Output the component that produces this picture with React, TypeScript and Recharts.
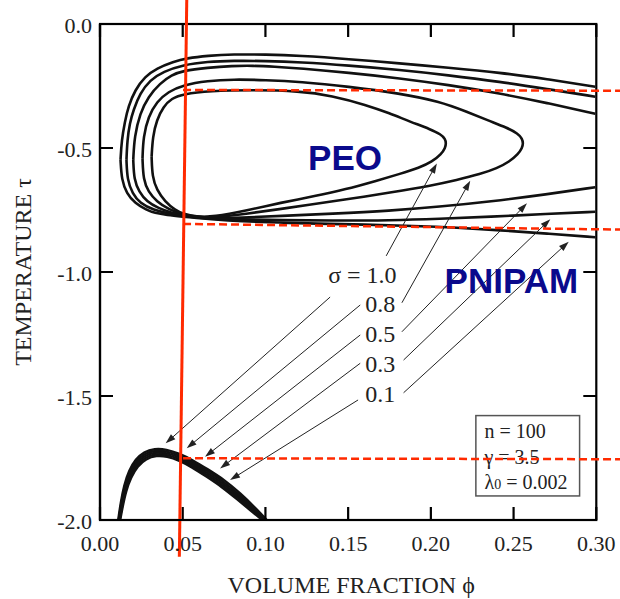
import React from 'react';
import {
  ComposedChart,
  Line,
  XAxis,
  YAxis,
  ReferenceLine,
  ReferenceDot,
  ReferenceArea,
} from 'recharts';

// ---------- axes ----------
const xTicks = [0, 0.05, 0.1, 0.15, 0.2, 0.25, 0.3];
const yTicks = [-2, -1.5, -1, -0.5, 0];

// ---------- coexistence curves (phi, tau) ----------
const loopSigma01: number[][] = [
  [0.0124, -0.548], [0.0131, -0.629], [0.0161, -0.683], [0.0212, -0.723], [0.0282, -0.75],
  [0.033, -0.762], [0.0403, -0.77], [0.0504, -0.777], [0.058, -0.782], [0.0683, -0.788],
  [0.085, -0.795], [0.1089, -0.801], [0.13, -0.805], [0.16, -0.809], [0.19, -0.814],
  [0.2157, -0.821], [0.2419, -0.832], [0.27, -0.845], [0.2994, -0.86],
];
const loopSigma01Top: number[][] = [
  [0.0124, -0.548], [0.0131, -0.468], [0.015, -0.395], [0.0171, -0.333], [0.0212, -0.266],
  [0.0272, -0.212], [0.0343, -0.179], [0.0443, -0.152], [0.0524, -0.138], [0.065, -0.128],
  [0.0804, -0.122], [0.1, -0.123], [0.121, -0.128], [0.15, -0.141], [0.1815, -0.159],
  [0.21, -0.176], [0.2419, -0.196], [0.27, -0.222], [0.2994, -0.253],
];
const loopSigma03: number[][] = [
  [0.016, -0.548], [0.0165, -0.629], [0.0196, -0.683], [0.0242, -0.723], [0.0323, -0.75],
  [0.0423, -0.766], [0.0504, -0.774], [0.058, -0.78], [0.0683, -0.785], [0.085, -0.788],
  [0.1089, -0.791], [0.14, -0.793], [0.1754, -0.792], [0.205, -0.786], [0.2359, -0.777],
  [0.27, -0.766], [0.2994, -0.757],
];
const loopSigma03Top: number[][] = [
  [0.016, -0.548], [0.0165, -0.468], [0.018, -0.4], [0.0202, -0.347], [0.0242, -0.28],
  [0.0302, -0.226], [0.0383, -0.192], [0.0502, -0.165], [0.065, -0.152], [0.0804, -0.148],
  [0.1, -0.149], [0.121, -0.154], [0.15, -0.167], [0.1815, -0.185], [0.21, -0.206],
  [0.2419, -0.233], [0.27, -0.262], [0.2994, -0.293],
];
const loopSigma05: number[][] = [
  [0.0201, -0.548], [0.0206, -0.629], [0.0236, -0.676], [0.0282, -0.716], [0.0353, -0.743],
  [0.0433, -0.761], [0.0504, -0.771], [0.058, -0.779], [0.0683, -0.784], [0.085, -0.781],
  [0.1089, -0.774], [0.14, -0.765], [0.1754, -0.753], [0.205, -0.737], [0.2359, -0.716],
  [0.27, -0.687], [0.2994, -0.658],
];
const loopSigma05Top: number[][] = [
  [0.0201, -0.548], [0.0208, -0.454], [0.0242, -0.36], [0.0292, -0.293], [0.0363, -0.239],
  [0.0433, -0.206], [0.0502, -0.188], [0.065, -0.176], [0.08, -0.169], [0.0925, -0.168],
  [0.105, -0.172], [0.121, -0.179], [0.15, -0.196], [0.1815, -0.219], [0.21, -0.245],
  [0.2419, -0.28], [0.27, -0.318], [0.2994, -0.362],
];
const loopSigma08: number[][] = [
  [0.0257, -0.542], [0.0262, -0.629], [0.0292, -0.676], [0.0343, -0.716], [0.0413, -0.747],
  [0.0504, -0.769], [0.058, -0.777], [0.0683, -0.782], [0.09, -0.764], [0.1089, -0.746],
  [0.125, -0.73], [0.15, -0.706], [0.1754, -0.68], [0.2, -0.652], [0.2157, -0.629],
  [0.23, -0.605], [0.24, -0.582], [0.2475, -0.555], [0.2527, -0.525], [0.2552, -0.5],
  [0.2558, -0.481], [0.2552, -0.462], [0.2527, -0.442], [0.246, -0.418], [0.235, -0.39],
  [0.2218, -0.354], [0.205, -0.312], [0.1815, -0.28], [0.15, -0.252], [0.121, -0.233],
  [0.1, -0.226], [0.0804, -0.223], [0.065, -0.229], [0.0502, -0.246], [0.0413, -0.273],
  [0.0343, -0.313], [0.0292, -0.374], [0.0262, -0.454], [0.0257, -0.542],
];
const loopSigma10: number[][] = [
  [0.0312, -0.535], [0.0316, -0.616], [0.0343, -0.669], [0.0393, -0.716], [0.0454, -0.75],
  [0.0504, -0.766], [0.058, -0.777], [0.0683, -0.779], [0.09, -0.75], [0.1089, -0.721],
  [0.13, -0.694], [0.149, -0.666], [0.165, -0.636], [0.1815, -0.604], [0.193, -0.58],
  [0.2008, -0.555], [0.2063, -0.525], [0.2087, -0.5], [0.2092, -0.481], [0.2087, -0.463],
  [0.206, -0.445], [0.2, -0.425], [0.1875, -0.394], [0.175, -0.36], [0.1613, -0.327],
  [0.14, -0.289], [0.121, -0.27], [0.0907, -0.266], [0.0665, -0.27], [0.0502, -0.282],
  [0.0433, -0.3], [0.0383, -0.333], [0.0343, -0.387], [0.0319, -0.454], [0.0312, -0.535],
];

// ---------- lower (PNIPAM) domes ----------
const domeSigma10: number[][] = [
  [0.011, -2.0], [0.0125, -1.93], [0.0145, -1.86], [0.0175, -1.8], [0.0215, -1.755],
  [0.0265, -1.725], [0.033, -1.712], [0.04, -1.715], [0.048, -1.732], [0.056, -1.758],
  [0.065, -1.795], [0.075, -1.837], [0.085, -1.893], [0.0935, -1.948], [0.1008, -2.0],
];
const domeSigma08: number[][] = [
  [0.0113, -2.0], [0.0128, -1.934], [0.0148, -1.865], [0.0178, -1.807], [0.0218, -1.762],
  [0.0268, -1.732], [0.0333, -1.719], [0.0401, -1.722], [0.048, -1.739], [0.0559, -1.765],
  [0.0648, -1.802], [0.0746, -1.844], [0.0845, -1.899], [0.0929, -1.951], [0.1, -2.0],
];
const domeSigma05: number[][] = [
  [0.0116, -2.0], [0.0131, -1.938], [0.0151, -1.871], [0.0181, -1.814], [0.0221, -1.769],
  [0.0271, -1.739], [0.0336, -1.726], [0.0402, -1.729], [0.048, -1.746], [0.0557, -1.772],
  [0.0645, -1.809], [0.0742, -1.851], [0.084, -1.905], [0.0923, -1.954], [0.0993, -2.0],
];
const domeSigma03: number[][] = [
  [0.0119, -2.0], [0.0134, -1.942], [0.0154, -1.877], [0.0184, -1.821], [0.0224, -1.776],
  [0.0274, -1.746], [0.0339, -1.733], [0.0403, -1.736], [0.048, -1.753], [0.0555, -1.779],
  [0.0642, -1.816], [0.0738, -1.858], [0.0835, -1.911], [0.0917, -1.958], [0.0986, -2.0],
];
const domeSigma01: number[][] = [
  [0.0122, -2.0], [0.0137, -1.946], [0.0157, -1.883], [0.0187, -1.828], [0.0227, -1.783],
  [0.0277, -1.753], [0.0342, -1.74], [0.0404, -1.743], [0.048, -1.76], [0.0553, -1.786],
  [0.0639, -1.823], [0.0734, -1.865], [0.083, -1.917], [0.0911, -1.962], [0.098, -2.0],
];

const loops = [
  loopSigma01, loopSigma01Top, loopSigma03, loopSigma03Top,
  loopSigma05, loopSigma05Top, loopSigma08, loopSigma10,
];
const domes = [domeSigma10, domeSigma08, domeSigma05, domeSigma03, domeSigma01];

// ---------- annotations ----------
const sigmaLabels = ['σ = 1.0', '0.8', '0.5', '0.3', '0.1'];
const sigmaLabelX = [0.1379, 0.1603, 0.1603, 0.1603, 0.1603];
const sigmaLabelY = [-1.043, -1.16, -1.281, -1.402, -1.523];
const upArrowFrom = [[0.173, -0.935], [0.1825, -1.124], [0.1825, -1.241], [0.1835, -1.355], [0.1835, -1.487]];
const upArrowTo = [[0.2036, -0.562], [0.2238, -0.632], [0.2581, -0.723], [0.2722, -0.787], [0.2833, -0.878]];
const downArrowFrom = [[0.1391, -1.101], [0.1573, -1.133], [0.1573, -1.254], [0.1573, -1.368], [0.156, -1.516]];
const downArrowTo = [[0.0397, -1.691], [0.0524, -1.711], [0.0635, -1.745], [0.0726, -1.792], [0.0786, -1.839]];

const paramLines = ['n = 100', 'γ = 3.5', 'λ', '0', ' = 0.002'];
const paramBox = { x1: 0.2272, x2: 0.2899, y1: -1.579, y2: -1.903 };

const peoAnchor = [0.1258, -0.589];
const pnipamAnchor = [0.2083, -1.083];

const redVertical = [[0.05244, 0.0968], [0.04796, -2.148]];
const redDashed = [
  [[0.0502, -0.266], [0.3145, -0.269]],
  [[0.0502, -0.806], [0.3145, -0.829]],
  [[0.0502, -1.751], [0.3145, -1.755]],
];

// ---------- styles ----------
const SERIF = '"Liberation Serif", "Times New Roman", serif';
const SANS = '"Liberation Sans", Arial, sans-serif';
const NAVY = '#0a0a8c';
const RED = '#ff2a00';

const toPts = (a: number[][]) => a.map(([x, y]) => ({ x, y }));

// default tickSize 6 + tickMargin 2 -> label anchor 8px outside the axis
const BottomLabel = (p: any) => (
  <text x={Number(p.x)} y={Number(p.y) + 23} textAnchor="middle" fontFamily={SERIF} fontSize={22} fill="#222">
    {Number(p.payload.value).toFixed(2)}
  </text>
);
const LeftLabel = (p: any) => (
  <text x={Number(p.x)} y={Number(p.y) + 9} textAnchor="end" fontFamily={SERIF} fontSize={22} fill="#222">
    {Number(p.payload.value).toFixed(1)}
  </text>
);

const XStubs = (p: any) => {
  const x = Number(p.x1);
  const yTop = Math.min(Number(p.y1), Number(p.y2));
  const yBot = Math.max(Number(p.y1), Number(p.y2));
  return (
    <path d={`M${x},${yBot}L${x},${yBot - 13}M${x},${yTop}L${x},${yTop + 13}`} stroke="#000" strokeWidth={2.2} fill="none" />
  );
};
const YStubs = (p: any) => {
  const y = Number(p.y1);
  const xL = Math.min(Number(p.x1), Number(p.x2));
  const xR = Math.max(Number(p.x1), Number(p.x2));
  return (
    <path d={`M${xL},${y}L${xL + 13},${y}M${xR},${y}L${xR - 13},${y}`} stroke="#000" strokeWidth={2.2} fill="none" />
  );
};

const Arrow = (p: any) => {
  const x1 = Number(p.x1), y1 = Number(p.y1), x2 = Number(p.x2), y2 = Number(p.y2);
  const dx = x2 - x1, dy = y2 - y1;
  const len = Math.hypot(dx, dy) || 1;
  const ux = dx / len, uy = dy / len;
  const L = 10, W = 3.3;
  const bx = x2 - ux * L, by = y2 - uy * L;
  const pts = `${x2},${y2} ${bx - uy * W},${by + ux * W} ${bx + uy * W},${by - ux * W}`;
  return (
    <g>
      <line x1={x1} y1={y1} x2={bx + ux * 2} y2={by + uy * 2} stroke="#222" strokeWidth={1} />
      <polygon points={pts} fill="#222" />
    </g>
  );
};

const TextDot = (text: string, family: string, size: number, color: string, weight: string) => (p: any) => (
  <text x={p.cx} y={p.cy} fontFamily={family} fontSize={size} fontWeight={weight} fill={color}>
    {text}
  </text>
);

export default function App() {
  return (
    <div style={{ position: 'absolute', left: 0, top: 0, width: 620, height: 599, background: '#fff' }}>
      <ComposedChart width={620} height={599} margin={{ top: 24, right: 23.7, bottom: 0, left: 0 }}>
        <XAxis
          type="number"
          dataKey="x"
          domain={[0, 0.3]}
          ticks={xTicks}
          height={79}
          tickLine={false}
          axisLine={{ stroke: '#000', strokeWidth: 2.2 }}
          tick={BottomLabel}
        />
        <YAxis
          type="number"
          domain={[-2, 0]}
          ticks={yTicks}
          width={100}
          tickLine={false}
          axisLine={{ stroke: '#000', strokeWidth: 2.2 }}
          tick={LeftLabel}
        />

        {loops.map((l, i) => (
          <Line
            key={`loop${i}`}
            data={toPts(l)}
            dataKey="y"
            type="basis"
            dot={false}
            activeDot={false}
            stroke="#111"
            strokeWidth={2.6}
            isAnimationActive={false}
          />
        ))}
        {domes.map((d, i) => (
          <Line
            key={`dome${i}`}
            data={toPts(d)}
            dataKey="y"
            type="basis"
            dot={false}
            activeDot={false}
            stroke="#111"
            strokeWidth={2.4}
            isAnimationActive={false}
          />
        ))}

        {upArrowFrom.map((f, i) => (
          <ReferenceLine
            key={`ua${i}`}
            segment={[{ x: f[0], y: f[1] }, { x: upArrowTo[i][0], y: upArrowTo[i][1] }]}
            ifOverflow="visible"
            shape={Arrow}
          />
        ))}
        {downArrowFrom.map((f, i) => (
          <ReferenceLine
            key={`da${i}`}
            segment={[{ x: f[0], y: f[1] }, { x: downArrowTo[i][0], y: downArrowTo[i][1] }]}
            ifOverflow="visible"
            shape={Arrow}
          />
        ))}

        {sigmaLabels.map((s, i) => (
          <ReferenceDot
            key={`sl${i}`}
            x={sigmaLabelX[i]}
            y={sigmaLabelY[i]}
            ifOverflow="visible"
            shape={TextDot(s, SERIF, 24, '#222', 'normal')}
          />
        ))}
        <ReferenceDot x={peoAnchor[0]} y={peoAnchor[1]} ifOverflow="visible" shape={TextDot('PEO', SANS, 35, NAVY, 'bold')} />
        <ReferenceDot x={pnipamAnchor[0]} y={pnipamAnchor[1]} ifOverflow="visible" shape={TextDot('PNIPAM', SANS, 35, NAVY, 'bold')} />
        {/* axis titles, placed just outside the plot frame */}
        <ReferenceDot x={0.1518} y={-2.2944} ifOverflow="visible" shape={(p: any) => (
          <text x={p.cx} y={p.cy} textAnchor="middle" fontFamily={SERIF} fontSize={24} fill="#222">VOLUME FRACTION ϕ</text>
        )} />
        <ReferenceDot x={-0.0417} y={-1.0} ifOverflow="visible" shape={(p: any) => (
          <text x={p.cx} y={p.cy} textAnchor="middle" fontFamily={SERIF} fontSize={24} fill="#222" transform={`rotate(-90, ${p.cx}, ${p.cy})`}>TEMPERATURE τ</text>
        )} />

        <ReferenceArea
          x1={paramBox.x1}
          x2={paramBox.x2}
          y1={paramBox.y1}
          y2={paramBox.y2}
          ifOverflow="visible"
          shape={(p: any) => (
            <g>
              <rect x={p.x} y={p.y} width={p.width} height={p.height} fill="#fff" stroke="#555" strokeWidth={1.5} />
              <text x={p.x + 8.6} y={p.y + 22.6} fontFamily={SERIF} fontSize={20} fill="#222">
                {paramLines[0]}
              </text>
              <text x={p.x + 8.6} y={p.y + 48} fontFamily={SERIF} fontSize={20} fill="#222">
                {paramLines[1]}
              </text>
              <text x={p.x + 8.6} y={p.y + 73.6} fontFamily={SERIF} fontSize={20} fill="#222">
                {paramLines[2]}
                <tspan fontSize={14}>{paramLines[3]}</tspan>
                {paramLines[4]}
              </text>
            </g>
          )}
        />
        <ReferenceArea
          x1={0}
          x2={0.3}
          y1={-2}
          y2={0}
          ifOverflow="visible"
          shape={(p: any) => (
            <rect x={p.x} y={p.y} width={p.width} height={p.height} fill="none" stroke="#000" strokeWidth={2.2} />
          )}
        />

        {xTicks.map((t) => (
          <ReferenceLine key={t} x={t} ifOverflow="visible" shape={XStubs} />
        ))}
        {yTicks.map((t) => (
          <ReferenceLine key={`y${t}`} y={t} ifOverflow="visible" shape={YStubs} />
        ))}

        {redDashed.map((seg, i) => (
          <ReferenceLine
            key={`rd${i}`}
            segment={[{ x: seg[0][0], y: seg[0][1] }, { x: seg[1][0], y: seg[1][1] }]}
            ifOverflow="visible"
            stroke={RED}
            strokeWidth={2.5}
            strokeDasharray="8 4"
          />
        ))}
        <ReferenceLine
          segment={[
            { x: redVertical[0][0], y: redVertical[0][1] },
            { x: redVertical[1][0], y: redVertical[1][1] },
          ]}
          ifOverflow="visible"
          stroke={RED}
          strokeWidth={3}
        />
      </ComposedChart>
    </div>
  );
}
